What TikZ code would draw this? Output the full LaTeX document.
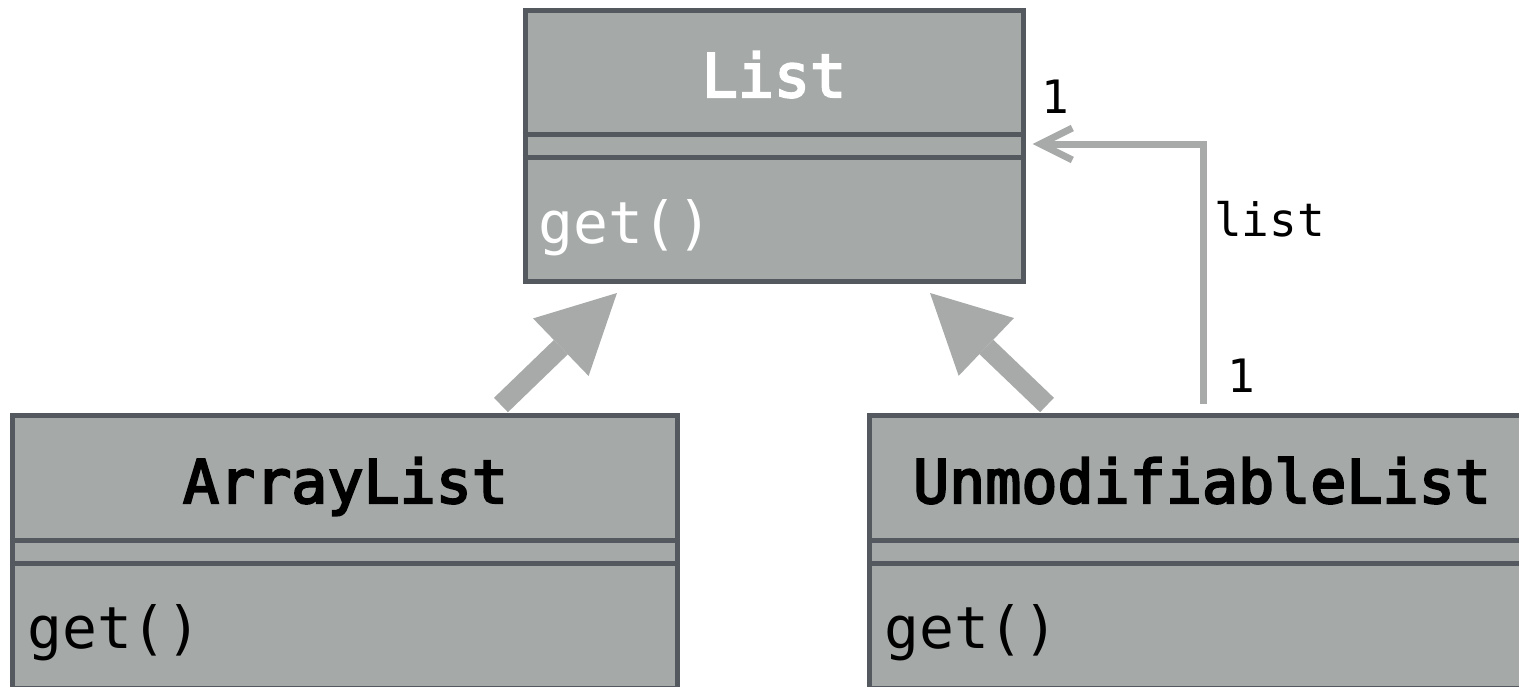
\documentclass[tikz,border=0pt]{standalone}
\usepackage{fontspec}
\setmonofont{DejaVu Sans Mono}
\newfontfamily\titlefont{DejaVu Sans Mono}[FakeBold=3.5]
\usetikzlibrary{arrows.meta}

\definecolor{clsfill}{HTML}{A5A9A8}
\definecolor{clsborder}{HTML}{545960}
\definecolor{linkgray}{HTML}{A7AAA9}

\tikzset{
  cls/.style={rectangle, draw=clsborder, fill=clsfill, line width=5pt, inner sep=0pt},
  divider/.style={draw=clsborder, line width=5pt},
  clstitle/.style={anchor=base, inner sep=0pt, font=\titlefont\fontsize{60}{60}\selectfont},
  clsop/.style={anchor=base west, inner sep=0pt, font=\ttfamily\fontsize{58}{58}\selectfont},
  inherit/.style={draw=linkgray, line width=20pt,
    -{Triangle[length=78pt, width=80pt, line width=0pt, fill=linkgray]},
    shorten <=10.8pt, shorten >=13.7pt},
  assoc/.style={draw=linkgray, line width=7pt, line join=miter,
    -{Straight Barb[length=32pt, width=32pt]}},
  mult/.style={inner sep=0pt, font=\ttfamily\fontsize{46}{46}\selectfont},
}

\begin{document}
\begin{tikzpicture}[x=1pt, y=-1pt]
  \useasboundingbox (0,0) rectangle (1519,686);

  % class boxes
  \node[cls, minimum width=498pt, minimum height=271pt] (L) at (774,145.5) {};
  \node[cls, minimum width=665pt, minimum height=273pt] (A) at (345,551.5) {};
  \node[cls, minimum width=665pt, minimum height=273pt] (U) at (1202,551.5) {};

  % compartment dividers
  \draw[divider] (L.west |- 0,134.5) -- (L.east |- 0,134.5);
  \draw[divider] (L.west |- 0,157.5) -- (L.east |- 0,157.5);
  \draw[divider] (A.west |- 0,540.5) -- (A.east |- 0,540.5);
  \draw[divider] (A.west |- 0,563.5) -- (A.east |- 0,563.5);
  \draw[divider] (U.west |- 0,540.5) -- (U.east |- 0,540.5);
  \draw[divider] (U.west |- 0,563.5) -- (U.east |- 0,563.5);

  % class names
  \node[clstitle, text=white] (Lname) at (774,97) {List};
  \node[clstitle] (Aname) at (345.5,503) {ArrayList};
  \node[clstitle] (Uname) at (1202,503) {UnmodifiableList};

  % operations
  \node[clsop, text=white] (Lop) at (538,243) {get()};
  \node[clsop] (Aop) at (27,648) {get()};
  \node[clsop] (Uop) at (884,648) {get()};

  % generalisations
  \draw[inherit] (A.north -| 493.2,0) -- (L.south -| 626.8,0);
  \draw[inherit] (U.north -| 1054.8,0) -- (L.south -| 920.1,0);

  % association UnmodifiableList -> List
  \draw[assoc, shorten <=9pt, shorten >=7pt] (U.north -| 1203,0) |- ([yshift=1.5pt]L.east);

  % association labels
  \node[mult, anchor=base] (mtop) at (1055,113) {1};
  \node[mult, anchor=base west] (role) at (1214,236) {list};
  \node[mult, anchor=base] (mbot) at (1241,392) {1};
\end{tikzpicture}
\end{document}
